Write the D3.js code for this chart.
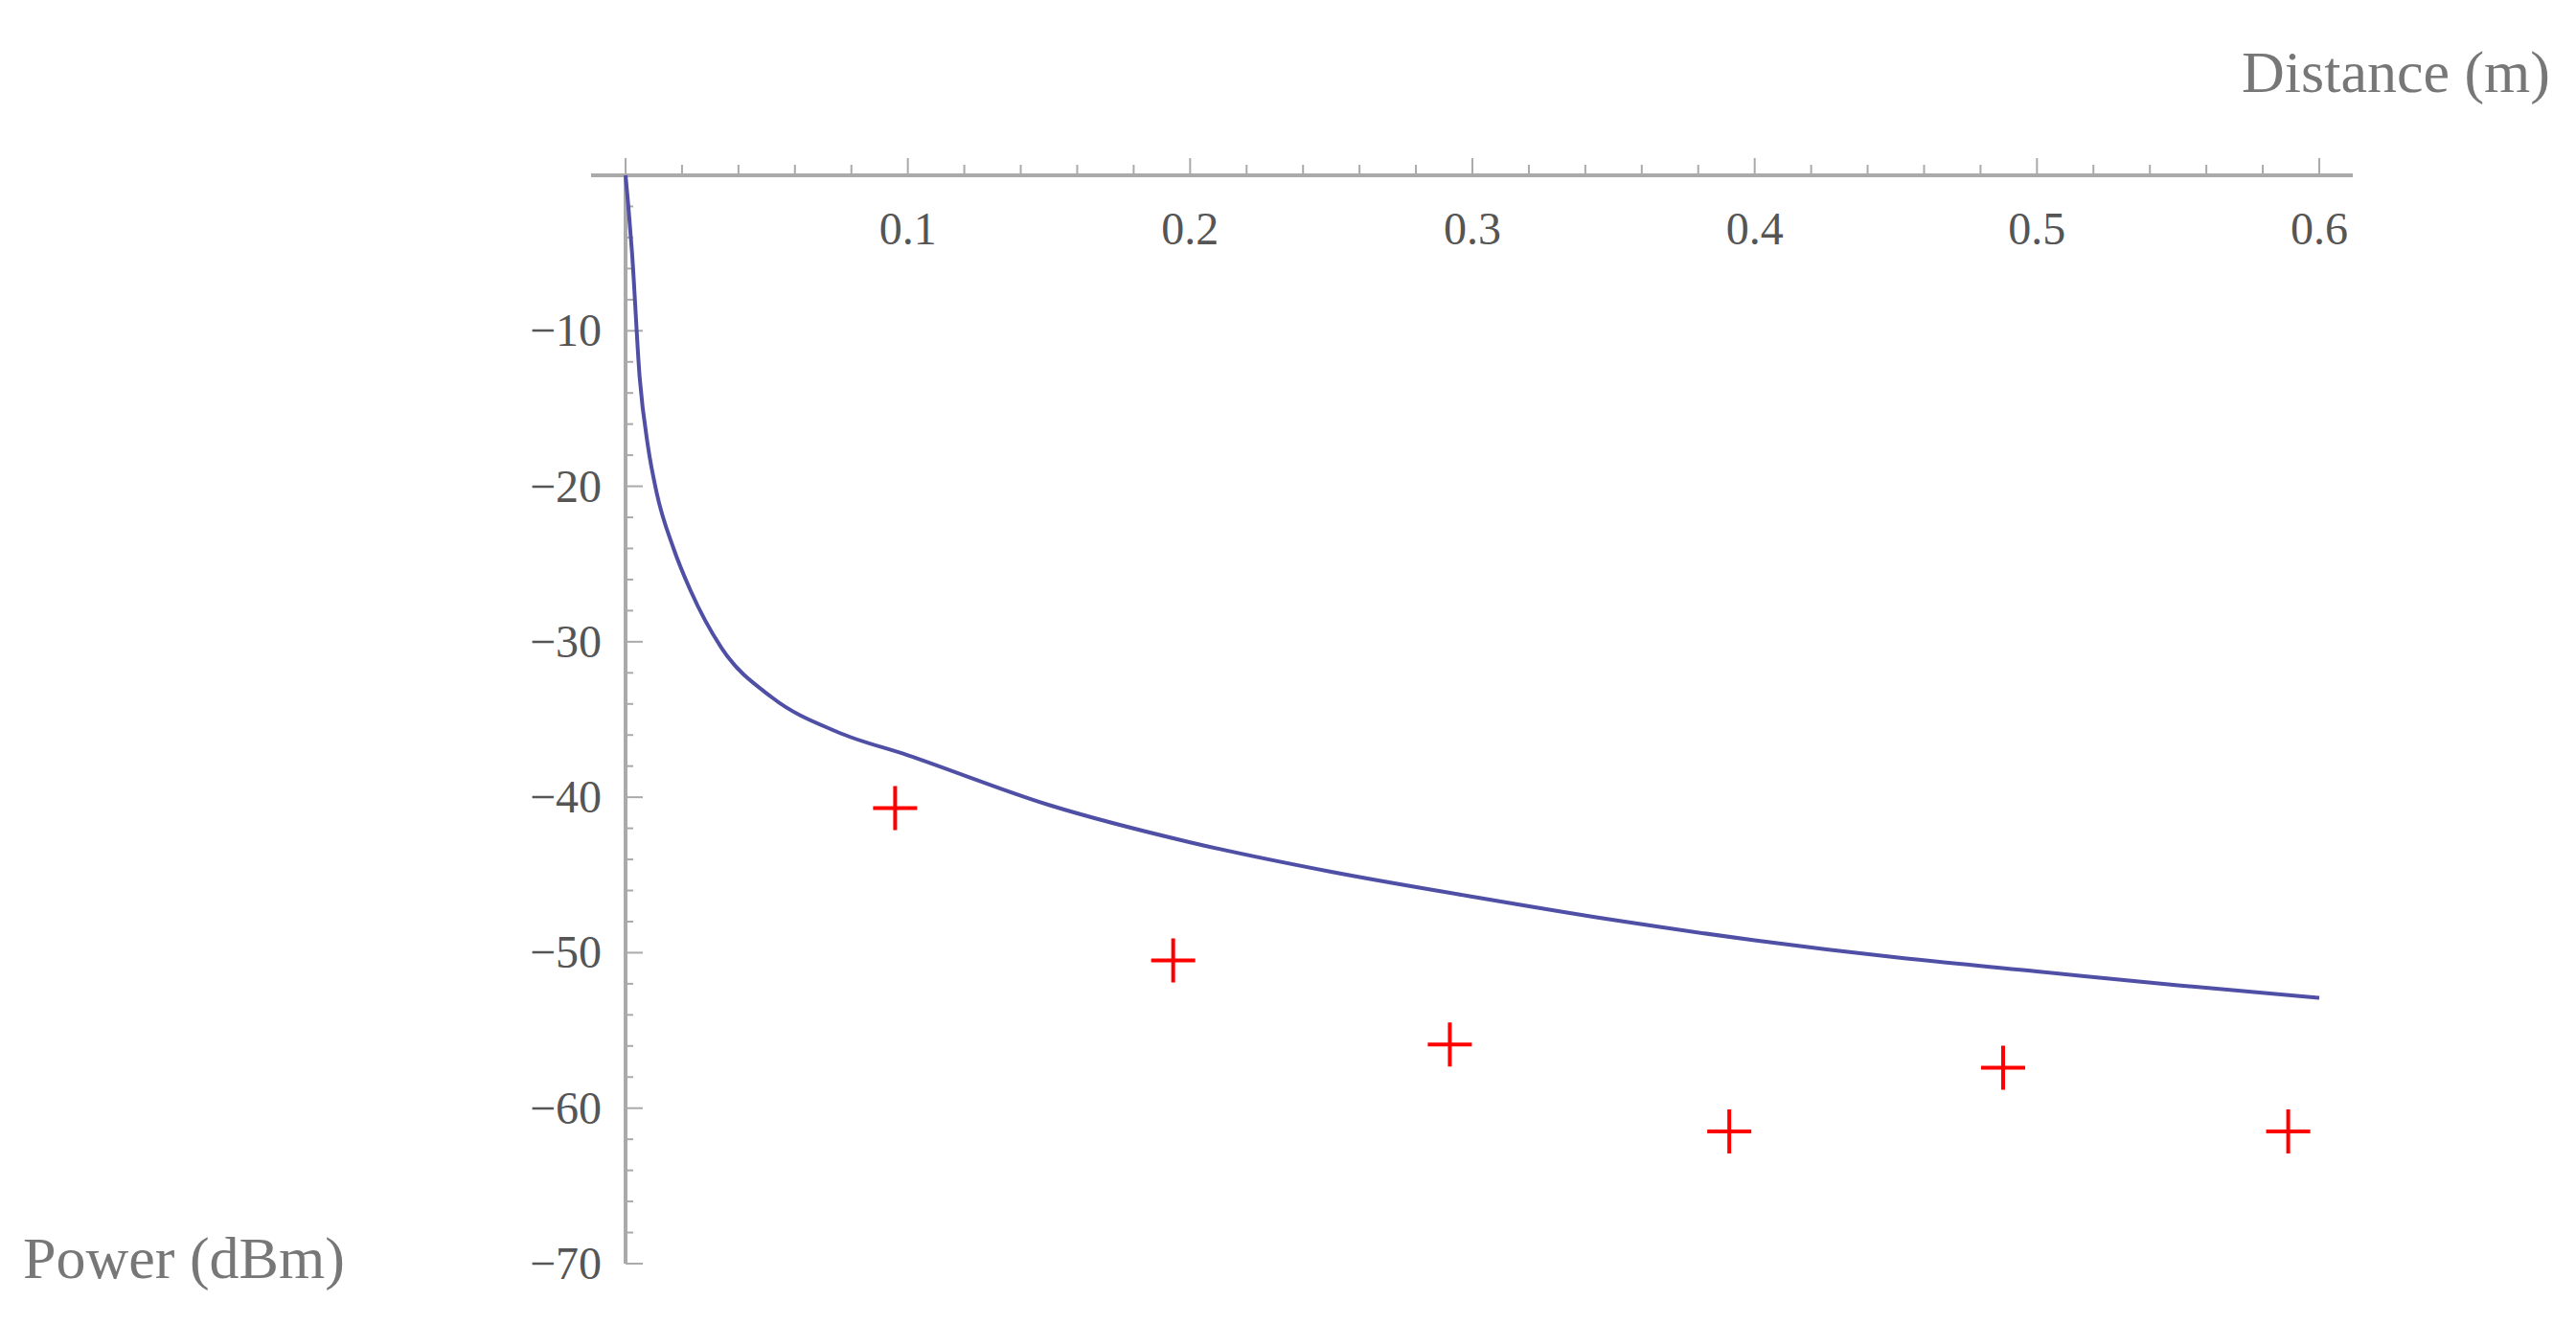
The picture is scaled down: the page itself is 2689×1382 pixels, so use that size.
<!DOCTYPE html>
<html><head><meta charset="utf-8">
<script src="https://cdn.jsdelivr.net/npm/d3@7"></script>
<style>body{margin:0;background:#fff}</style>
</head><body>
<script>
// curve
var curveD = [0, 0.001, 0.0023, 0.005, 0.008, 0.011, 0.017, 0.023, 0.034, 0.052, 0.075, 0.1, 0.15, 0.2, 0.25, 0.3, 0.35, 0.4, 0.45, 0.5, 0.55, 0.6];
var curveP = [0, -2, -5, -13, -17.5, -20.4, -24, -26.7, -30.4, -33.6, -35.8, -37.3, -40.5, -42.9, -44.8, -46.4, -47.9, -49.2, -50.3, -51.2, -52.1, -52.9];
// measured points
var measD = [0.0955, 0.194, 0.292, 0.391, 0.488, 0.589];
var measP = [-40.7, -50.5, -55.9, -61.5, -57.4, -61.5];
var xTicks = [0.1, 0.2, 0.3, 0.4, 0.5, 0.6];
var yTicks = [-10, -20, -30, -40, -50, -60, -70];

var W = 2689, H = 1382;
var svg = d3.select('body').append('svg').attr('width', W).attr('height', H);
var x = d3.scaleLinear().domain([0, 0.6]).range([653, 2421]);
var y = d3.scaleLinear().domain([0, -70]).range([183, 1319]);
var axisCol = '#aaaaaa', font = '"Liberation Serif", "DejaVu Serif", serif';

// x axis
svg.append('line').attr('x1', 617).attr('x2', 2456).attr('y1', y(0)).attr('y2', y(0))
    .attr('stroke', axisCol).attr('stroke-width', 4);
svg.selectAll('.xm').data(d3.range(0, 31)).enter().append('line')
    .attr('x1', function(i) { return x(i * 0.02); }).attr('x2', function(i) { return x(i * 0.02); })
    .attr('y1', y(0)).attr('y2', function(i) { return y(0) - (i % 5 === 0 ? 18 : 11); })
    .attr('stroke', axisCol).attr('stroke-width', 2);
svg.selectAll('.xl').data(xTicks).enter().append('text')
    .attr('x', function(d) { return x(d); }).attr('y', y(0) + 72)
    .attr('text-anchor', 'middle').attr('font-family', font).attr('font-size', 48)
    .attr('fill', '#555').text(function(d) { return d.toFixed(1); });

// y axis
svg.append('line').attr('x1', x(0)).attr('x2', x(0)).attr('y1', y(0)).attr('y2', y(-70))
    .attr('stroke', axisCol).attr('stroke-width', 4);
svg.selectAll('.ym').data(d3.range(1, 36)).enter().append('line')
    .attr('y1', function(i) { return y(-i * 2); }).attr('y2', function(i) { return y(-i * 2); })
    .attr('x1', x(0)).attr('x2', function(i) { return x(0) + (i % 5 === 0 ? 18 : 8); })
    .attr('stroke', axisCol).attr('stroke-width', 2);
svg.selectAll('.yl').data(yTicks).enter().append('text')
    .attr('x', 628).attr('y', function(d) { return y(d) + 16; })
    .attr('text-anchor', 'end').attr('font-family', font).attr('font-size', 48)
    .attr('fill', '#555').text(function(d) { return '\u2212' + Math.abs(d); });

// axis titles
svg.append('text').attr('x', 2662).attr('y', 96).attr('text-anchor', 'end')
    .attr('font-family', font).attr('font-size', 62).attr('fill', '#777').text('Distance (m)');
svg.append('text').attr('x', 24).attr('y', 1334)
    .attr('font-family', font).attr('font-size', 62).attr('fill', '#777').text('Power (dBm)');

// curve
var line = d3.line().curve(d3.curveMonotoneX)
    .x(function(d) { return x(d[0]); }).y(function(d) { return y(d[1]); });
svg.append('path').datum(d3.zip(curveD, curveP)).attr('d', line)
    .attr('fill', 'none').attr('stroke', '#4f4fa6').attr('stroke-width', 4);

// measured points as plus signs
svg.selectAll('.pt').data(d3.zip(measD, measP)).enter().append('path')
    .attr('d', function(d) {
        var cx = x(d[0]), cy = y(d[1]), s = 23;
        return 'M' + (cx - s) + ',' + cy + 'H' + (cx + s) + 'M' + cx + ',' + (cy - s) + 'V' + (cy + s);
    })
    .attr('stroke', '#ff0000').attr('stroke-width', 4).attr('fill', 'none');
</script>
</body></html>
